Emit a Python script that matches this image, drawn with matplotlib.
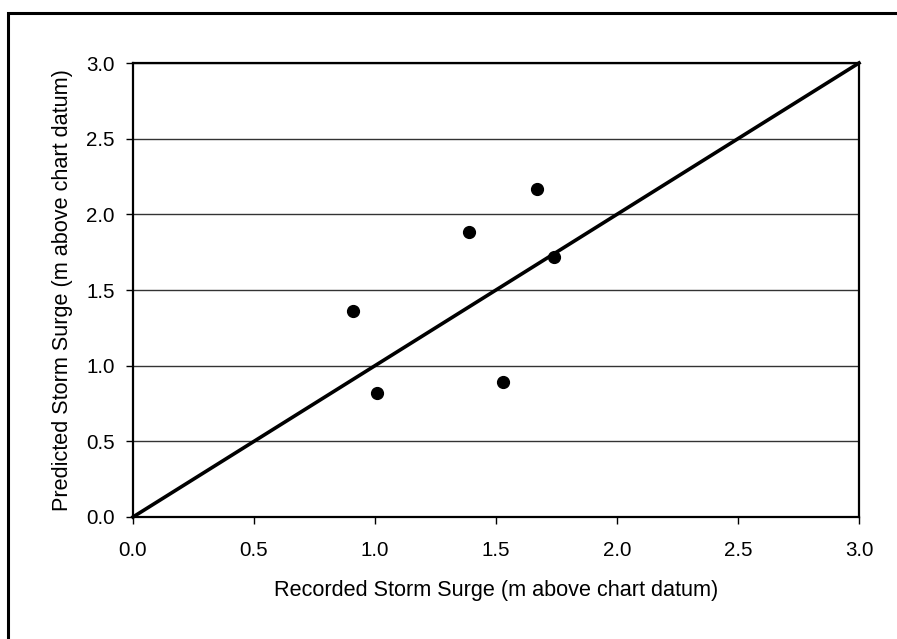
import numpy as np
import matplotlib.pyplot as plt
from matplotlib.patches import Rectangle

# Recorded vs predicted storm surge (m above chart datum)
recorded = [0.91, 1.01, 1.39, 1.53, 1.67, 1.74]
predicted = [1.36, 0.82, 1.88, 0.89, 2.17, 1.72]
ticks = [0.0, 0.5, 1.0, 1.5, 2.0, 2.5, 3.0]

plt.rcParams['font.family'] = ['Liberation Sans', 'DejaVu Sans']

fig = plt.figure(figsize=(8.97, 6.39), dpi=100)
ax = fig.add_axes([133 / 897, 1 - 517 / 639, (859 - 133) / 897, (517 - 63) / 639])

# outer frame (right and bottom edges fall outside the picture)
fig.patches.append(Rectangle((8 / 897, -0.1), 1.2, 1 - 13 / 639 + 0.1,
                             transform=fig.transFigure, fill=False,
                             edgecolor='black', linewidth=2.2))

ax.plot([0, 3], [0, 3], color='black', linewidth=2.6, clip_on=False, zorder=3)
ax.plot(recorded, predicted, 'o', color='black', markersize=8.5, zorder=4)

ax.set_xlim(0, 3)
ax.set_ylim(0, 3)
ax.set_xticks(ticks)
ax.set_yticks(ticks)
ax.set_xticklabels([f'{t:.1f}' for t in ticks])
ax.set_yticklabels([f'{t:.1f}' for t in ticks])
ax.yaxis.grid(True, color='#333333', linewidth=1.0)
ax.set_axisbelow(True)
for s in ax.spines.values():
    s.set_linewidth(1.6)
ax.tick_params(direction='out', length=5, width=1.0, labelsize=14.8)
ax.tick_params(axis='x', pad=12)
ax.tick_params(axis='y', pad=8)

ax.set_xlabel('Recorded Storm Surge (m above chart datum)', fontsize=15.6)
ax.set_ylabel('Predicted Storm Surge (m above chart datum)', fontsize=15.6)
ax.xaxis.set_label_coords(0.5, (517 - 580) / 454)
ax.yaxis.set_label_coords((73 - 133) / 726, 0.5)

fig.savefig('out.png', dpi=100)
